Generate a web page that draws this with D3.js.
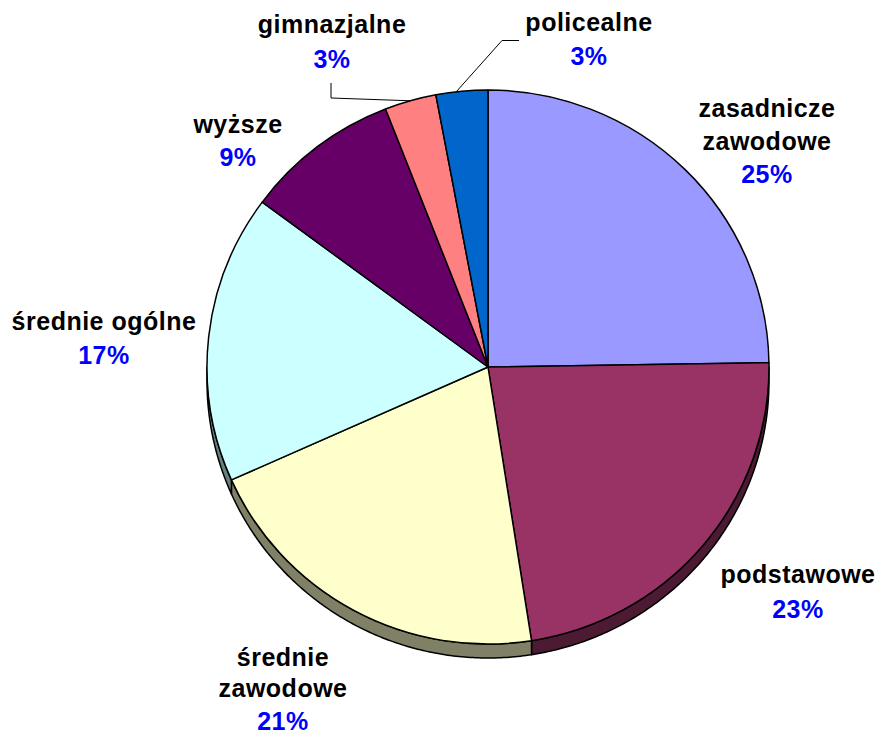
<!DOCTYPE html>
<html>
<head>
<meta charset="utf-8">
<script src="https://cdn.jsdelivr.net/npm/d3@7"></script>
<style>
  html, body { margin: 0; padding: 0; background: #ffffff; }
  svg { display: block; }
  text { font-family: "Liberation Sans", Arial, sans-serif; font-weight: bold; font-size: 25px; letter-spacing: 0.5px; }
</style>
</head>
<body>
<svg id="chart" width="880" height="735"></svg>
<script>
// Education level shares (percent), clockwise from 12 o'clock
const categories = [
  ["zasadnicze", "zawodowe"],
  ["podstawowe"],
  ["średnie", "zawodowe"],
  ["średnie ogólne"],
  ["wyższe"],
  ["gimnazjalne"],
  ["policealne"]
];
const shares = [25, 23, 21, 17, 9, 3, 3];
const sliceColors = ["#9999FF", "#993366", "#FFFFCC", "#CCFFFF", "#660066", "#FF8080", "#0066CC"];

const svg = d3.select("#chart");
const cx = 488, cy = 367;      // pie centre
const rx = 281, ry = 277;      // top-face radii
const depth = 14;              // thickness of the pie disc

const data = shares.map((v, i) => ({ name: categories[i], value: v, color: sliceColors[i] }));
const pie = d3.pie().sort(null).value(d => d.value).startAngle(0).endAngle(2 * Math.PI);
const arcs = pie(data);

// point on the top ellipse for an angle measured clockwise from 12 o'clock
const pt = (a, dy = 0) => [cx + rx * Math.sin(a), cy - ry * Math.cos(a) + dy];

const shade = c => { const k = d3.rgb(c); return d3.rgb(k.r / 2, k.g / 2, k.b / 2).formatHex(); };

// side wall: only the front half (angles π/2 .. 3π/2) is visible
const sideG = svg.append("g");
arcs.forEach(a => {
  const s = Math.max(a.startAngle, Math.PI / 2);
  const e = Math.min(a.endAngle, 3 * Math.PI / 2);
  if (e <= s) return;
  const n = Math.max(2, Math.ceil((e - s) / 0.01));
  const ang = d3.range(n + 1).map(i => s + (e - s) * i / n);
  const top = ang.map(t => pt(t));
  const bottom = ang.slice().reverse().map(t => pt(t, depth));
  sideG.append("path")
    .attr("d", d3.line()(top.concat(bottom)) + "Z")
    .attr("fill", shade(a.data.color))
    .attr("stroke", "#000")
    .attr("stroke-width", 1.5)
    .attr("stroke-linejoin", "round");
});

// top faces
const arcGen = d3.arc().innerRadius(0).outerRadius(rx);
svg.append("g")
  .attr("transform", `translate(${cx},${cy}) scale(1,${ry / rx})`)
  .selectAll("path")
  .data(arcs)
  .join("path")
  .attr("d", arcGen)
  .attr("fill", d => d.data.color)
  .attr("stroke", "#000")
  .attr("stroke-width", 1.5)
  .attr("stroke-linejoin", "round")
  .attr("vector-effect", "non-scaling-stroke");

// label placement: centre x, first baseline, line step, gap to percentage baseline
const labelLayout = [
  { x: 767, y: 117, step: 33, gap: 33 },
  { x: 798, y: 583, step: 33, gap: 35 },
  { x: 283, y: 666, step: 31, gap: 33 },
  { x: 104, y: 330, step: 33, gap: 34 },
  { x: 238, y: 133, step: 33, gap: 33 },
  { x: 332, y: 33, step: 33, gap: 35 },
  { x: 589, y: 31, step: 33, gap: 34 }
];

// leader lines for the two thin slices at the top
const leaderG = svg.append("g").attr("fill", "none").attr("stroke", "#000").attr("stroke-width", 1);
const gim = arcs[5], pol = arcs[6];
const gimEdge = pt((gim.startAngle + gim.endAngle) / 2);
leaderG.append("path").attr("d", d3.line()([[331, 83], [331, 98], gimEdge]));
const polEdge = pt((pol.startAngle + pol.endAngle) / 2 - 0.02);
leaderG.append("path").attr("d", d3.line()([[519, 40.5], [502, 40.5], polEdge]));

const fmt = v => d3.format(".0f")(v) + "%";
const lab = svg.append("g").attr("text-anchor", "middle");
arcs.forEach((a, i) => {
  const L = labelLayout[i];
  a.data.name.forEach((line, j) => {
    lab.append("text").attr("x", L.x).attr("y", L.y + j * L.step).attr("fill", "#000").text(line);
  });
  const last = L.y + (a.data.name.length - 1) * L.step;
  lab.append("text").attr("x", L.x).attr("y", last + L.gap).attr("fill", "#0000FF").text(fmt(a.data.value));
});
</script>
</body>
</html>
